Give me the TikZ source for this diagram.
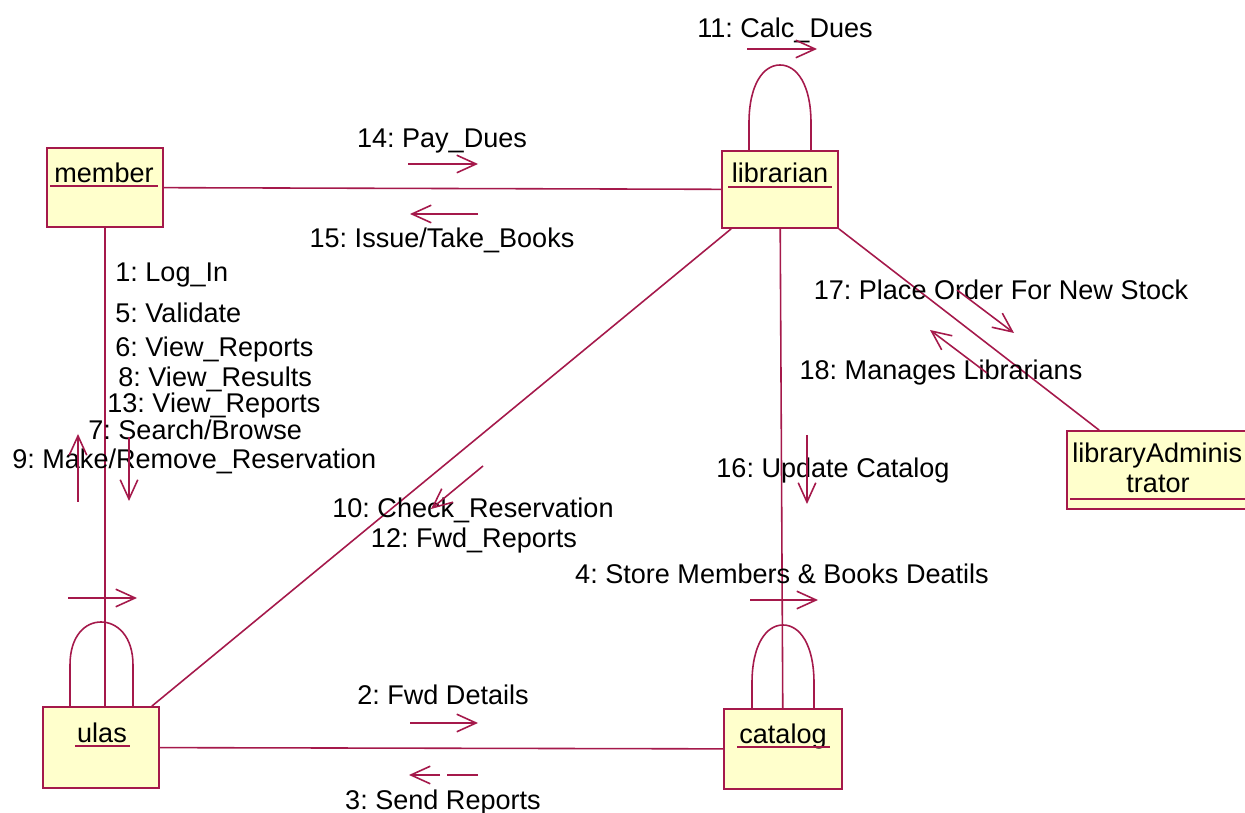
\documentclass[tikz,border=0pt]{standalone}
\usepackage{fontspec}
\setmainfont{Liberation Sans}
\usetikzlibrary{arrows.meta,calc}
\definecolor{umlline}{RGB}{165,25,75}
\definecolor{umlfill}{RGB}{255,255,204}
\frenchspacing
\begin{document}
\begin{tikzpicture}[x=0.02cm,y=-0.02cm,
  obj/.style={draw=umlline, fill=umlfill, line width=1pt, rectangle, inner sep=0pt},
  link/.style={draw=umlline, line width=0.9pt},
  msg/.style={draw=umlline, line width=0.9pt, -{Straight Barb[length=11pt,width=10pt]}},
  lbl/.style={font=\fontsize{15.4}{18}\selectfont, inner sep=0pt, anchor=base},
  lblw/.style={lbl, anchor=base west}]

\useasboundingbox (0,0) rectangle (1245,813);
\fill[white] (0,0) rectangle (1245,813);

% objects
\node[obj, minimum width=2.32cm, minimum height=1.58cm] (member) at (105,187.5) {};
\node[obj, minimum width=2.32cm, minimum height=1.54cm] (librarian) at (780,189.5) {};
\node[obj, minimum width=2.32cm, minimum height=1.62cm] (ulas) at (101,747.5) {};
\node[obj, minimum width=2.36cm, minimum height=1.60cm] (catalog) at (783,749) {};
\node[obj, minimum width=3.76cm, minimum height=1.56cm] (admin) at (1161,470) {};

% object names, underlined
\node[lbl] (memberName) at (104,183) {member};
\draw[link] (50,186) -- (158,186);
\node[lbl] (librarianName) at (780,183) {librarian};
\draw[link] (728,187) -- (832,187);
\node[lbl] (ulasName) at (102,743) {ulas};
\draw[link] (75,746) -- (130,746);
\node[lbl] (catalogName) at (783,744) {catalog};
\draw[link] (737,747) -- (830,747);
\node[lblw] (adminName1) at (1072,463) {libraryAdminis};
\node[lbl] (adminName2) at (1158,493) {trator};
\draw[link] (1070,499) -- (1250,499);

% links
\draw[link] (member) -- (librarian);
\draw[link] (member.south) -- (member.south |- ulas.north);
\draw[link] (ulas) -- (catalog);
\draw[link] ($(ulas.north east)+(-8,0)$) -- ($(librarian.south west)+(10,0)$);
\draw[link] (librarian) -- (catalog);
\draw[link] (librarian.south east) -- ($(admin.north west)+(33,0)$);

% self links
\draw[link] (749,151) -- (749,123) .. controls (749,85) and (763,65) .. (780,65)
  .. controls (797,65) and (811,85) .. (811,123) -- (811,151);
\draw[link] (70,707) -- (70,665) .. controls (70,636) and (85,622) .. (101,622)
  .. controls (117,622) and (133,636) .. (133,665) -- (133,707);
\draw[link] (752,709) -- (752,683) .. controls (752,645) and (766,625) .. (783,625)
  .. controls (800,625) and (814,645) .. (814,683) -- (814,709);

% messages
\node[lbl] (m11) at (785,38) {11: Calc\_Dues};
\draw[msg] (747,49) -- (817,49);

\node[lbl] (m14) at (442,148) {14: Pay\_Dues};
\draw[msg] (408,164) -- (478,164);
\node[lbl] (m15) at (442,248) {15: Issue/Take\_Books};
\draw[msg] (478,214) -- (410,214);

\node[lblw] (m1) at (115,282) {1: Log\_In};
\node[lblw] (m5) at (115,323) {5: Validate};
\node[lblw] (m6) at (115,357) {6: View\_Reports};
\node[lblw] (m8) at (118,387) {8: View\_Results};
\node[lblw] (m13) at (107,413) {13: View\_Reports};
\node[lblw] (m7) at (88,440) {7: Search/Browse};
\node[lblw] (m9) at (12,469) {9: Make/Remove\_Reservation};
\draw[msg] (78,502) -- (78,434);
\draw[msg] (129,437) -- (129,501);
\draw[msg] (68,598) -- (137,598);

\node[lbl] (m10) at (473,518) {10: Check\_Reservation};
\node[lbl] (m12) at (474,548) {12: Fwd\_Reports};
\draw[msg] (483,466) -- (431,509);

\node[lbl] (m16) at (833,478) {16: Update Catalog};
\draw[msg] (807,435) -- (807,504);

\node[lbl] (m17) at (1001,300) {17: Place Order For New Stock};
\draw[msg] (957,290) -- (1014,333);
\node[lbl] (m18) at (941,380) {18: Manages Librarians};
\draw[msg] (987,373) -- (930,330);

\node[lbl] (m4) at (782,584) {4: Store Members \& Books Deatils};
\draw[msg] (750,600) -- (818,600);

\node[lbl] (m2) at (443,705) {2: Fwd Details};
\draw[msg] (410,723) -- (478,723);
\node[lbl] (m3) at (443,810) {3: Send Reports};
\draw[link] (478,775) -- (447,775);
\draw[msg] (440,775) -- (409,775);
\end{tikzpicture}
\end{document}
